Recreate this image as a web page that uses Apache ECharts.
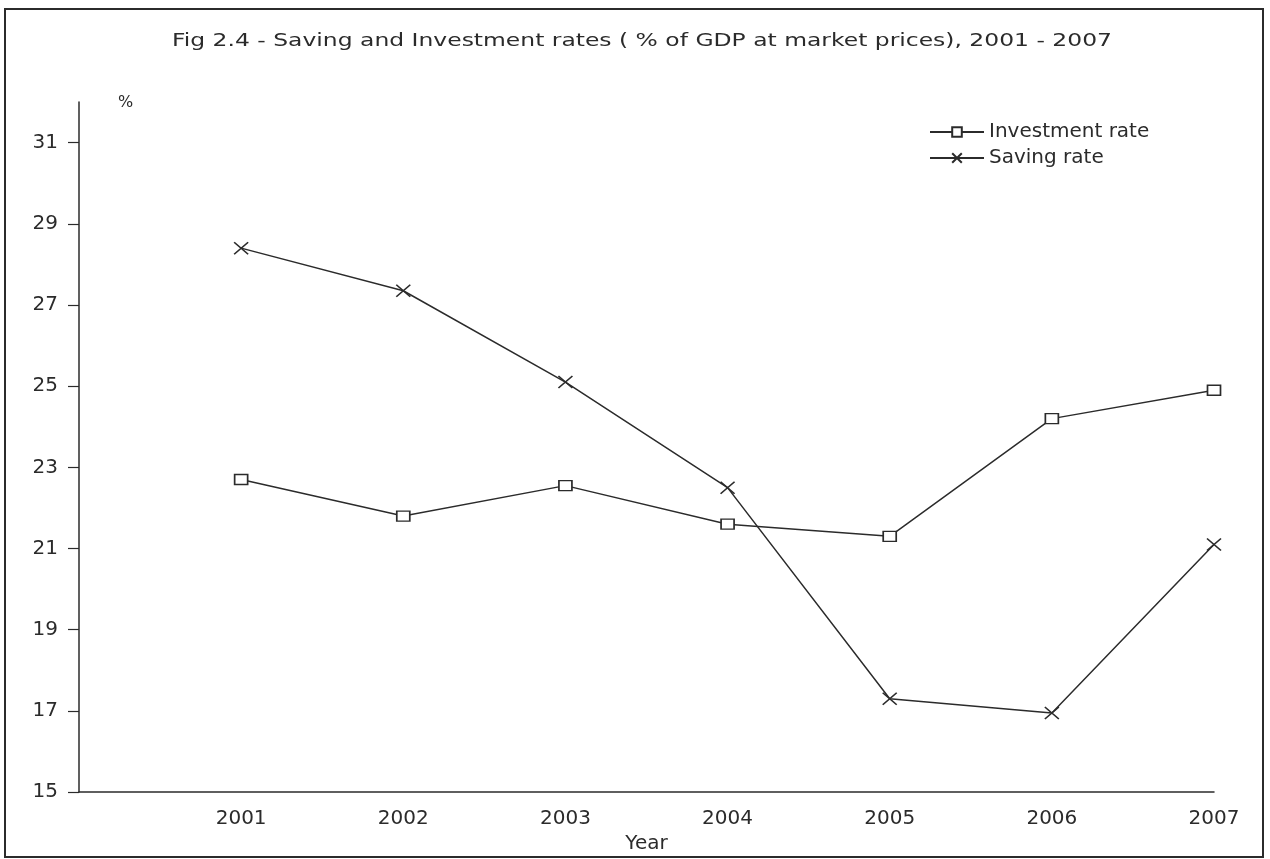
<!DOCTYPE html>
<html>
<head>
<meta charset="utf-8">
<script src="https://cdn.jsdelivr.net/npm/echarts@6/dist/echarts.min.js"></script>
<style>
html,body{margin:0;padding:0;background:#fff;}
#c{width:1270px;height:859px;}
</style>
</head>
<body>
<div id="c"></div>
<script>
var years = [2001, 2002, 2003, 2004, 2005, 2006, 2007];
var investmentRate = [22.7, 21.8, 22.55, 21.6, 21.3, 24.2, 24.9];
var savingRate = [28.4, 27.35, 25.1, 22.5, 17.3, 16.95, 21.1];
var yTicks = [15, 17, 19, 21, 23, 25, 27, 29, 31];
var xTicks = [2001, 2002, 2003, 2004, 2005, 2006, 2007];
var titleText = 'Fig 2.4 - Saving and Investment rates ( % of GDP at market prices), 2001 - 2007';

var ink = '#2b2b2b';
var font = '"DejaVu Sans", sans-serif';
var crossPath = 'path://M0,0L10,10M10,0L0,10';

function pairs(vals){ return years.map(function(y,i){ return [y, vals[i]]; }); }

// horizontal stretch for the title so it spans the same width as the reference
var mc = document.createElement('canvas').getContext('2d');
mc.font = '18px "DejaVu Sans"';
var titleW = mc.measureText(titleText).width;
var titleScale = 940 / titleW;

var chart = echarts.init(document.getElementById('c'));
chart.setOption({
  animation: false,
  backgroundColor: '#fff',
  legend: {
    orient: 'vertical', left: 924, top: 117,
    itemWidth: 54, itemHeight: 12, itemGap: 6,
    textStyle: {fontFamily: font, fontSize: 20, color: ink},
    data: ['Investment rate', 'Saving rate']
  },
  grid: {left: 79, right: 56, top: 102, bottom: 65},
  xAxis: {
    type: 'value', min: 2000, max: 2007,
    name: 'Year', nameLocation: 'middle', nameGap: 41,
    nameTextStyle: {fontFamily: font, fontSize: 20, color: ink},
    axisLine: {show: true, lineStyle: {color: ink, width: 1.5}},
    axisTick: {show: false},
    splitLine: {show: false},
    axisLabel: {customValues: xTicks, fontFamily: font, fontSize: 20, color: ink, margin: 17,
      formatter: function(v){ return String(v); }}
  },
  yAxis: {
    type: 'value', min: 15, max: 32,
    axisLine: {show: true, lineStyle: {color: ink, width: 1.5}},
    axisTick: {show: true, customValues: yTicks, length: 11, lineStyle: {color: ink, width: 1.2}},
    splitLine: {show: false},
    axisLabel: {customValues: yTicks, fontFamily: font, fontSize: 20, color: ink, margin: 21}
  },
  graphic: [
    {type: 'rect', shape: {x: 5, y: 9, width: 1258, height: 848},
     style: {fill: 'none', stroke: ink, lineWidth: 2}, silent: true},
    {type: 'text', x: 642, y: 41, scaleX: titleScale, scaleY: 1,
     style: {text: titleText, fontFamily: font, fontSize: 18, fill: ink,
             align: 'center', verticalAlign: 'middle'}, silent: true},
    {type: 'text', x: 118, y: 95,
     style: {text: '%', fontFamily: font, fontSize: 16, fill: ink}, silent: true}
  ],
  series: [
    {
      name: 'Investment rate', type: 'line', data: pairs(investmentRate),
      symbol: 'rect', symbolSize: [13, 10],
      lineStyle: {color: ink, width: 1.5},
      itemStyle: {color: '#fff', borderColor: ink, borderWidth: 1.5},
      emphasis: {disabled: true}, z: 3
    },
    {
      name: 'Saving rate', type: 'line', data: pairs(savingRate),
      symbol: crossPath, symbolSize: [14, 12], symbolKeepAspect: false,
      lineStyle: {color: ink, width: 1.5},
      itemStyle: {color: ink, borderColor: ink, borderWidth: 1.5},
      emphasis: {disabled: true}, z: 4
    }
  ]
});
</script>
</body>
</html>
